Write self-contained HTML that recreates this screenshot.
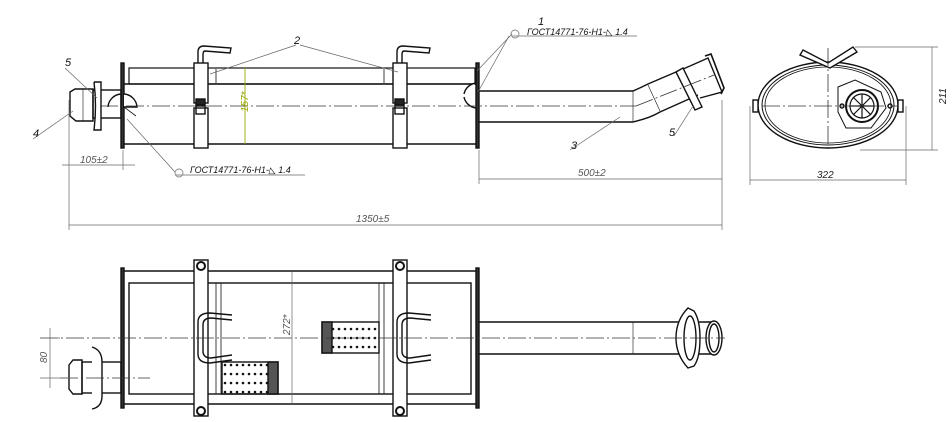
<!DOCTYPE html>
<html><head><meta charset="utf-8"><style>
html,body{margin:0;padding:0;background:#fff;}
svg{display:block;}
text{font-family:"Liberation Sans",sans-serif;font-style:italic;}
</style></head><body>
<svg width="952" height="422" viewBox="0 0 952 422" xmlns="http://www.w3.org/2000/svg">
<defs>
<pattern id="dots" x="0" y="0" width="6" height="9" patternUnits="userSpaceOnUse">
<circle cx="3" cy="5" r="1.3" fill="#111"/>
</pattern>
</defs>
<rect width="952" height="422" fill="#fff"/>
<g fill="none" stroke="#111" stroke-width="1.4">
<!-- TOP VIEW body -->
<rect x="121" y="63" width="3" height="85" fill="#333"/>
<rect x="476" y="63" width="3" height="85" fill="#333"/>
<line x1="124" y1="84" x2="476" y2="84"/>
<line x1="124" y1="144" x2="476" y2="144"/>
<rect x="129" y="68" width="346" height="16" stroke-width="1.2"/>
<line x1="216" y1="69" x2="216" y2="83" stroke-width="0.8"/>
<line x1="384" y1="69" x2="384" y2="83" stroke-width="0.8"/>
<rect x="194" y="63" width="14" height="40" fill="#fff"/>
<rect x="194" y="108" width="14" height="40" fill="#fff"/>
<rect x="196" y="99" width="9" height="6" fill="#222"/>
<rect x="196" y="106" width="9" height="8"/>
<rect x="393" y="63" width="14" height="40" fill="#fff"/>
<rect x="393" y="108" width="14" height="40" fill="#fff"/>
<rect x="395" y="99" width="9" height="6" fill="#222"/>
<rect x="395" y="106" width="9" height="8"/>
<path d="M198 63 V52 Q198 46 204 46 L231 48 L230 53 L205 51 Q203 51 203 55 V63"/>
<path d="M397 63 V52 Q397 46 403 46 L430 48 L429 53 L404 51 Q402 51 402 55 V63"/>
<!-- inlet -->
<path d="M70 92 L75 89 H93 V121 H76 L70 116 Z"/>
<line x1="83" y1="89" x2="83" y2="121" stroke-width="0.6"/>
<rect x="93" y="90" width="28" height="28"/>
<path d="M94 82 L101 82 L101 130 L94 130 Q97 106 94 82" fill="#fff"/>
<path d="M108 107 A14 14 0 0 1 121 94" />
<path d="M124 94 A14 14 0 0 1 137 107 L124 107" fill="#fff"/>
<line x1="124" y1="107" x2="136" y2="116" stroke-width="0.8"/>
<!-- outlet pipe 3 -->
<line x1="479" y1="91" x2="633" y2="91"/>
<line x1="479" y1="122" x2="633" y2="122"/>
<path d="M633 91 Q640 88 648 84 L690 66"/>
<path d="M633 122 Q650 118 660 112 L698 95"/>
<line x1="633" y1="91" x2="633" y2="122" stroke-width="0.6"/>
<line x1="648" y1="85" x2="660" y2="111" stroke-width="0.6"/>
<path d="M676 72 L683 68 L702 107 L695 110 Z" fill="#fff"/>
<path d="M690 66 L708 58 L722 92 L700 98"/>
<path d="M705 56 L711 54 L724 88 L721 94" stroke-width="1.6"/>
<path d="M464 94 A14 14 0 0 1 476 83" fill="#fff"/>
<path d="M464 97 A14 14 0 0 0 476 108" fill="#fff"/>
<!-- END VIEW -->
<ellipse cx="828" cy="105" rx="70" ry="43"/>
<ellipse cx="828" cy="105" rx="66" ry="40" stroke-width="1"/>
<ellipse cx="828" cy="105" rx="63" ry="38" stroke-width="0.8"/>
<path d="M803 50 L828 63 L853 47 L857 52 L830 68 L800 55 Z" fill="#fff"/>
<path d="M838 87 L855 80 L881 92 L886 108 L871 128 L846 128 L838 112 Z" fill="#fff" stroke-width="1"/>
<circle cx="862" cy="106" r="16" stroke-width="2"/>
<circle cx="862" cy="106" r="12" stroke-width="1.2"/>
<path d="M850 106 H874 M862 94 V118 M853 97 L871 115 M871 97 L853 115" stroke-width="1.2"/>
<circle cx="842" cy="106" r="2"/>
<circle cx="890" cy="106" r="2"/>
<rect x="753" y="100" width="5" height="12" fill="#fff"/>
<rect x="898" y="100" width="5" height="12" fill="#fff"/>
<!-- BOTTOM VIEW -->
<rect x="121" y="268" width="3" height="140" fill="#333"/>
<rect x="476" y="268" width="3" height="140" fill="#333"/>
<line x1="124" y1="271" x2="476" y2="271"/>
<line x1="124" y1="404" x2="476" y2="404"/>
<rect x="129" y="283" width="342" height="111"/>
<line x1="216" y1="283" x2="216" y2="394" stroke-width="0.8"/>
<line x1="221" y1="283" x2="221" y2="394" stroke-width="0.8"/>
<line x1="379" y1="283" x2="379" y2="394" stroke-width="0.8"/>
<line x1="384" y1="283" x2="384" y2="394" stroke-width="0.8"/>
<rect x="194" y="260" width="14" height="156" fill="#fff"/>
<rect x="393" y="260" width="14" height="156" fill="#fff"/>
<circle cx="201" cy="266" r="4" stroke-width="2"/>
<circle cx="201" cy="411" r="4" stroke-width="2"/>
<circle cx="400" cy="266" r="4" stroke-width="2"/>
<circle cx="400" cy="411" r="4" stroke-width="2"/>
<path d="M232 315 L210 313 Q198 313 198 322 V354 Q198 363 210 363 L232 360"/>
<path d="M232 320 L211 318 Q203 318 203 325 V351 Q203 358 211 358 L232 355"/>
<path d="M431 315 L409 313 Q397 313 397 322 V354 Q397 363 409 363 L431 360"/>
<path d="M431 320 L410 318 Q402 318 402 325 V351 Q402 358 410 358 L431 355"/>
<rect x="222" y="362" width="56" height="32" fill="url(#dots)"/>
<rect x="268" y="362" width="10" height="32" fill="#555"/>
<rect x="322" y="322" width="57" height="31" fill="url(#dots)"/>
<rect x="322" y="322" width="10" height="31" fill="#555"/>
<path d="M69 365 L73 360 H82 V394 H73 L69 389 Z"/>
<rect x="82" y="362" width="39" height="31"/>
<path d="M92 347 Q102 350 102 362 V396 Q102 407 92 409" fill="#fff"/>
<line x1="479" y1="322" x2="712" y2="322"/>
<line x1="479" y1="354" x2="712" y2="354"/>
<line x1="633" y1="322" x2="633" y2="354" stroke-width="0.6"/>
<path d="M688 308 L694 311 Q700 320 700 338 Q700 358 694 366 L688 368 Q676 355 676 338 Q676 320 688 308 Z" fill="#fff"/>
<ellipse cx="690" cy="338" rx="6" ry="22"/>
<ellipse cx="714" cy="338" rx="8" ry="17" fill="#fff"/>
<ellipse cx="714" cy="338" rx="5" ry="14"/>
</g>
<g stroke="#333" stroke-width="0.8" stroke-dasharray="18 3 2 3" fill="none">
<line x1="100" y1="106" x2="636" y2="106"/>
<line x1="636" y1="106" x2="714" y2="75"/>
<line x1="762" y1="106" x2="898" y2="106"/>
<line x1="828" y1="48" x2="828" y2="150"/>
<line x1="40" y1="338" x2="725" y2="338"/>
<line x1="60" y1="378" x2="150" y2="378"/>
</g>
<g stroke="#666" stroke-width="0.7" fill="none">
<line x1="69" y1="100" x2="69" y2="230"/>
<line x1="722" y1="100" x2="722" y2="230"/>
<line x1="69" y1="225" x2="722" y2="225"/>
<line x1="123" y1="150" x2="123" y2="170"/>
<line x1="62" y1="165" x2="135" y2="165"/>
<line x1="479" y1="150" x2="479" y2="184"/>
<line x1="479" y1="179" x2="722" y2="179"/>
<line x1="750" y1="106" x2="750" y2="185"/>
<line x1="906" y1="106" x2="906" y2="185"/>
<line x1="750" y1="180" x2="906" y2="180"/>
<line x1="855" y1="47" x2="938" y2="47"/>
<line x1="860" y1="150" x2="938" y2="150"/>
<line x1="932" y1="47" x2="932" y2="150"/>
<line x1="292" y1="272" x2="292" y2="404"/>
<line x1="40" y1="338" x2="60" y2="338"/>
<line x1="50" y1="328" x2="50" y2="388"/>
<line x1="40" y1="378" x2="70" y2="378"/>
<line x1="175" y1="175" x2="305" y2="175"/>
<line x1="127" y1="119" x2="175" y2="172"/>
<line x1="512" y1="36" x2="637" y2="36"/>
<line x1="509" y1="36" x2="478" y2="92"/>
<line x1="512" y1="34" x2="477" y2="71"/>
<line x1="296" y1="45" x2="210" y2="74"/>
<line x1="300" y1="45" x2="398" y2="72"/>
<line x1="65" y1="68" x2="97" y2="98"/>
<line x1="33" y1="139" x2="73" y2="111"/>
<line x1="570" y1="150" x2="620" y2="117"/>
<line x1="674" y1="136" x2="693" y2="106"/>
</g>
<g stroke="#888" stroke-width="0.9" fill="none">
<line x1="245" y1="68" x2="245" y2="144" stroke="#9a0"/>
<circle cx="179" cy="173" r="4"/>
<circle cx="515" cy="34" r="4"/>
</g>
<g fill="#555" font-size="10">
<text x="80" y="163">105±2</text>
<text x="578" y="176">500±2</text>
<text x="356" y="222">1350±5</text>
<text x="817" y="178" fill="#222">322</text>
<text x="946" y="104" transform="rotate(-90 946 104)" fill="#222">211</text>
<text x="248" y="112" transform="rotate(-90 248 112)" fill="#9a0">157*</text>
<text x="290" y="335" transform="rotate(-90 290 335)">272*</text>
<text x="47" y="363" transform="rotate(-90 47 363)">80</text>
</g>
<g fill="#111" font-size="9">
<text x="190" y="173">ГОСТ14771-76-Н1-◺ 1.4</text>
<text x="527" y="35">ГОСТ14771-76-Н1-◺ 1.4</text>
</g>
<g fill="#111" font-size="11">
<text x="294" y="44">2</text>
<text x="538" y="25">1</text>
<text x="65" y="66">5</text>
<text x="33" y="137">4</text>
<text x="571" y="149">3</text>
<text x="669" y="136">5</text>
</g>
</svg>
</body></html>
